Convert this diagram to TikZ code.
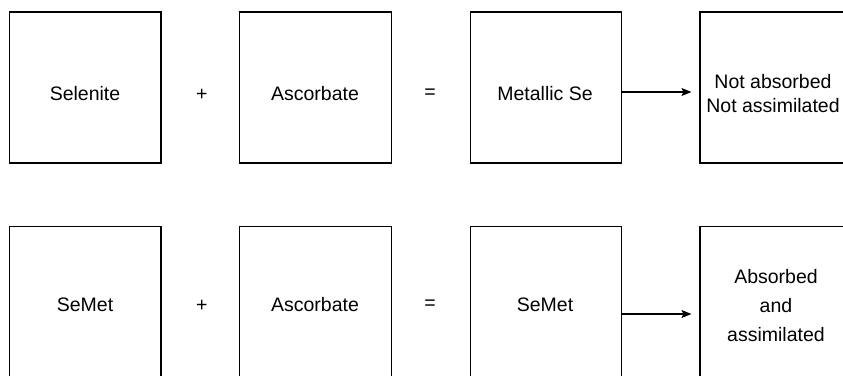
\documentclass[tikz,border=0pt]{standalone}
\usepackage{fontspec}
\setmainfont{Liberation Sans}
\usetikzlibrary{arrows.meta}
\begin{document}
\begin{tikzpicture}[x=1pt,y=1pt,
  box/.style={draw=black,line width=1.1pt,minimum width=151.5pt,minimum height=151pt,inner sep=0pt},
  lbl/.style={inner sep=0pt,font=\fontsize{19.5}{23.4}\selectfont,align=center},
  conn/.style={line width=1.1pt,-{Stealth[length=10pt,width=8pt,inset=2pt]},shorten >=8pt}]
\useasboundingbox (0,0) rectangle (843,375);
% row 1
\node[box] (a1) at (85.25,287.5) {};
\node[box] (a2) at (315.5,287.5) {};
\node[box] (a3) at (545.8,287.5) {};
\node[box] (a4) at (775.75,287.5) {};
\node[lbl] (ta1) at (85,281) {Selenite};
\node[lbl] (pa) at (201.7,280) {+};
\node[lbl] (ta2) at (315,281) {Ascorbate};
\node[lbl] (ea) at (430,281) {=};
\node[lbl] (ta3) at (545,281) {Metallic Se};
\node[lbl,font=\fontsize{19.5}{23.5}\selectfont] (ta4) at (773,281.7) {Not absorbed\\Not assimilated};
\draw[conn] ([yshift=-4.5pt]a3.east) -- ([yshift=-4.5pt]a4.west);
% row 2
\node[box] (b1) at (85.25,72.8) {};
\node[box] (b2) at (315.5,72.8) {};
\node[box] (b3) at (545.8,72.8) {};
\node[box] (b4) at (775.75,72.8) {};
\node[lbl] (tb1) at (85,70) {SeMet};
\node[lbl] (pb) at (201.7,69) {+};
\node[lbl] (tb2) at (315,70) {Ascorbate};
\node[lbl] (eb) at (430,70) {=};
\node[lbl] (tb3) at (545,70) {SeMet};
\node[lbl,font=\fontsize{19.5}{29}\selectfont] (tb4) at (776,69.7) {Absorbed\\and\\assimilated};
\draw[conn] ([yshift=-11.8pt]b3.east) -- ([yshift=-11.8pt]b4.west);
\end{tikzpicture}
\end{document}
